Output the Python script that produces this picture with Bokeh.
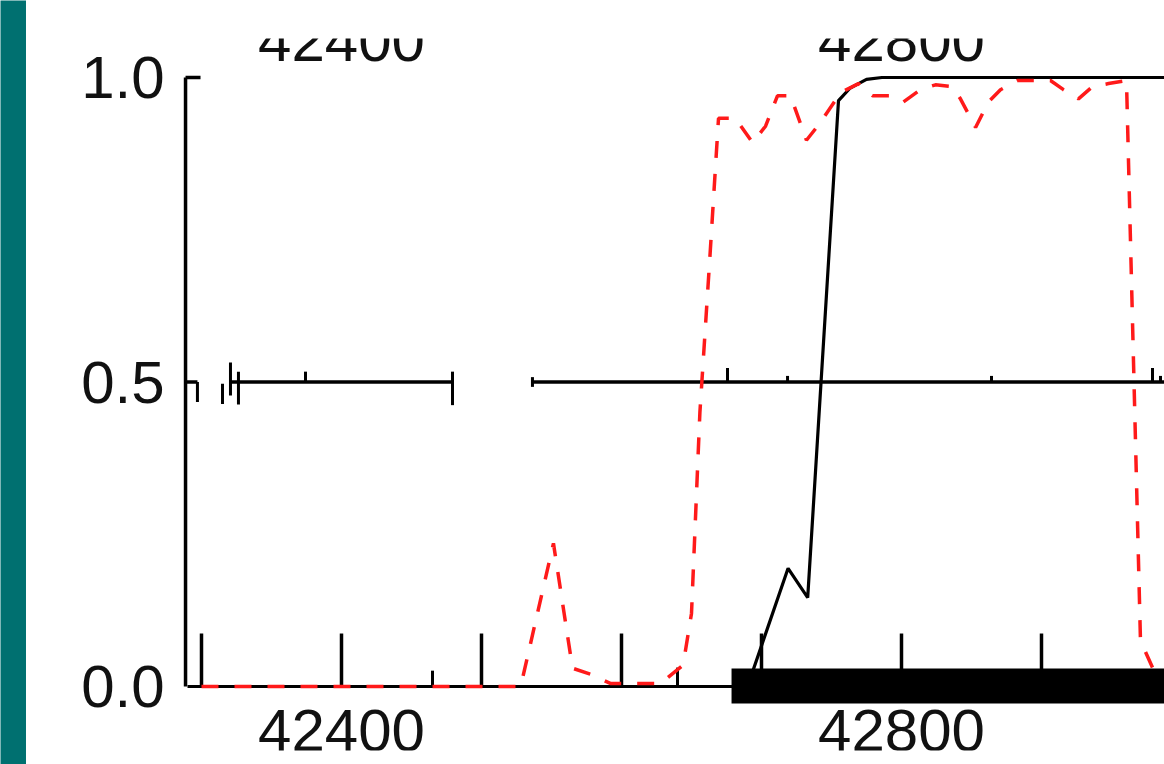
from bokeh.plotting import figure
from bokeh.models import Range1d, ColumnDataSource
from bokeh.core.properties import value
from bokeh.embed import file_html
from bokeh.resources import INLINE

# ---------------- data ----------------
# black solid curve (position in bp, value)
solid_pos = [42290, 42690, 42719, 42733, 42755, 42763, 42775, 42786, 42995]
solid_val = [0.0, 0.0, 0.194, 0.146, 0.962, 0.982, 0.997, 1.0, 1.0]

# red dashed curve
dashed_pos = [42300, 42528, 42551.4, 42565, 42578, 42592, 42628, 42644, 42650, 42656,
              42663, 42669.3, 42681.4, 42693.6, 42702.9, 42711.4, 42720.7, 42732.1,
              42742.1, 42756.4, 42769.3, 42779.3, 42792.1, 42801.4, 42813.6, 42824.3,
              42836.4, 42842.1, 42852.9, 42862.1, 42870.7, 42882.9, 42906.4, 42915.7,
              42926.4, 42936.4, 42947.9, 42960.7, 42970.7, 42979.3, 42985, 42995]
dashed_val = [0.0, 0.0, 0.235, 0.03, 0.02, 0.005, 0.005, 0.035, 0.12, 0.45,
              0.70, 0.933, 0.933, 0.893, 0.92, 0.97, 0.97, 0.897,
              0.926, 0.975, 0.99, 0.97, 0.97, 0.96, 0.98, 0.988,
              0.985, 0.965, 0.918, 0.96, 0.98, 0.995, 0.995, 0.98,
              0.965, 0.985, 0.99, 0.995, 0.075, 0.031, 0.0, 0.0]

# axis ticks / labels
y_ticks = [0.0, 0.5, 1.0]
y_labels = ["0.0", "0.5", "1.0"]
x_ticks = [42300, 42400, 42500, 42600, 42700, 42800, 42900]
x_label_pos = [42400, 42800]
x_labels = ["42400", "42800"]
minor_tick_pos = [42465, 42640]
minor_tick_top = [0.026, 0.031]

# middle (0.5) track
track_start = [42320.7, 42536.4]
track_end = [42479.3, 42995]
mark_pos = [42297.1, 42315.0, 42320.7, 42326.4, 42374.3, 42479.3, 42536.4,
            42675.7, 42718.6, 42864.3, 42979.3, 42985.0]
mark_lo = [0.467, 0.464, 0.478, 0.463, 0.5, 0.462, 0.492, 0.5, 0.5, 0.5, 0.5, 0.5]
mark_hi = [0.5, 0.497, 0.532, 0.517, 0.517, 0.517, 0.508, 0.523, 0.51, 0.51, 0.523, 0.51]

# thick feature bar
bar_start = [42678.6]
bar_end = [42995]

# ---------------- figure ----------------
AXIS_X = 42288.6
p = figure(width=1164, height=764, output_backend="svg", toolbar_location=None,
           x_range=Range1d(42156.43, 42987.86), y_range=Range1d(-0.12808, 1.12644),
           x_axis_location=None, y_axis_location=None, min_border=0,
           outline_line_color=None, background_fill_color="white",
           border_fill_color="white")
p.xgrid.visible = False
p.ygrid.visible = False

# y axis line and ticks
p.segment(x0=[AXIS_X], y0=[0.0], x1=[AXIS_X], y1=[1.0], line_color="black", line_width=3.5)
p.segment(x0=[AXIS_X, AXIS_X], y0=[1.0, 0.5], x1=[42299.3, 42297.1], y1=[1.0, 0.5],
          line_color="black", line_width=3.5)

# bottom ticks
p.segment(x0=x_ticks, y0=[0.0] * len(x_ticks), x1=x_ticks, y1=[0.087] * len(x_ticks),
          line_color="black", line_width=3.5)
p.segment(x0=minor_tick_pos, y0=[0.0] * 2, x1=minor_tick_pos, y1=minor_tick_top,
          line_color="black", line_width=3)

# middle track
p.segment(x0=track_start, y0=[0.5] * 2, x1=track_end, y1=[0.5] * 2,
          line_color="black", line_width=3.5)
p.segment(x0=mark_pos, y0=mark_lo, x1=mark_pos, y1=mark_hi,
          line_color="black", line_width=3)

# curves
p.line(solid_pos, solid_val, line_color="black", line_width=3.2)
p.line(dashed_pos, dashed_val, line_color="#ff1a1a", line_width=3.5, line_dash="17 16")

# thick bar
p.quad(left=bar_start, right=bar_end, bottom=[-0.0279], top=[0.0296],
       fill_color="black", line_color=None)

# labels
font = value("Liberation Sans")
ysrc = ColumnDataSource(dict(x=[42273.6] * 3, y=y_ticks, t=y_labels))
p.text(x="x", y="y", text="t", source=ysrc, text_font=font, text_font_size="60px",
       text_align="right", text_baseline="alphabetic", y_offset=0, text_color="#111111")
bsrc = ColumnDataSource(dict(x=x_label_pos, y=[0.0] * 2, t=x_labels))
p.text(x="x", y="y", text="t", source=bsrc, text_font=font, text_font_size="60px",
       text_align="center", text_baseline="alphabetic", y_offset=44, text_color="#111111")
tsrc = ColumnDataSource(dict(x=x_label_pos, y=[1.0] * 2, t=x_labels))
p.text(x="x", y="y", text="t", source=tsrc, text_font=font, text_font_size="60px",
       text_align="center", text_baseline="alphabetic", y_offset=-37, text_color="#111111")

# crop bands (white) at top and bottom
p.quad(left=[42175.0, 42175.0], right=[43000, 43000], bottom=[1.0640, -0.2],
       top=[1.2, -0.1051], fill_color="white", line_color=None)

# teal strip on the left
p.quad(left=[42150], right=[42174.64], bottom=[-0.2], top=[1.2],
       fill_color="#007070", line_color=None)

open("out.html", "w").write(file_html(p, INLINE))
